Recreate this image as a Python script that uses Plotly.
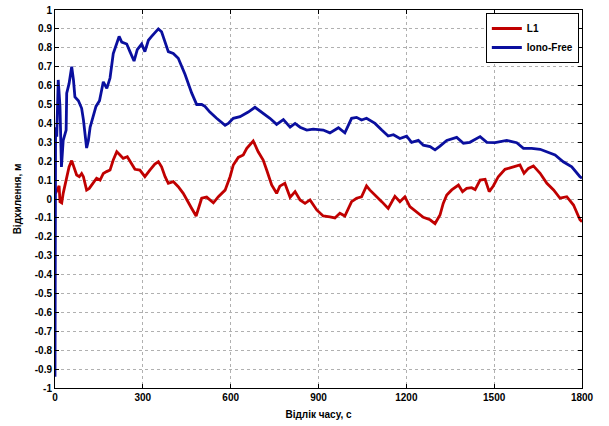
import plotly.graph_objects as go

# Time axis (s) and deviation (m) for the two solutions
l1_t = [2, 8, 14, 17, 23, 28, 40, 48, 57, 65, 74, 83, 91, 97, 108, 117, 131, 142, 154, 165,
        176, 188, 199, 211, 222, 233, 247, 262, 273, 290, 307, 324, 341, 353, 364, 376, 387, 404, 421, 438,
        450, 467, 482, 501, 518, 541, 558, 581, 598, 609, 626, 643, 655, 677, 694, 711, 723, 740, 757, 768,
        785, 803, 820, 837, 854, 871, 894, 916, 939, 956, 973, 990, 1013, 1030, 1047, 1064, 1075, 1093, 1116, 1138,
        1161, 1178, 1195, 1212, 1235, 1258, 1281, 1298, 1315, 1326, 1338, 1355, 1378, 1392, 1406, 1423, 1435, 1452, 1469, 1483,
        1497, 1514, 1537, 1560, 1588, 1602, 1617, 1634, 1657, 1680, 1703, 1725, 1748, 1771, 1793, 1800]
l1_dev = [0.03, 0.047, 0.07, -0.014, -0.02, 0.03, 0.118, 0.17, 0.203, 0.17,
          0.127, 0.118, 0.135, 0.118, 0.047, 0.056, 0.083, 0.11, 0.10, 0.135,
          0.145, 0.153, 0.206, 0.25, 0.233, 0.215, 0.224, 0.189, 0.157, 0.153,
          0.118, 0.153, 0.185, 0.197, 0.17, 0.118, 0.083, 0.092, 0.065, 0.03,
          -0.005, -0.05, -0.09, 0.004, 0.01, -0.02, 0.012, 0.047, 0.118, 0.18,
          0.22, 0.233, 0.268, 0.307, 0.25, 0.206, 0.153, 0.074, 0.03, 0.068,
          0.083, 0.009, 0.039, -0.005, -0.023, -0.005, -0.058, -0.09, -0.095, -0.10,
          -0.075, -0.09, -0.014, 0.004, 0.012, 0.069, 0.048, 0.022, -0.014, -0.05,
          0.014, -0.014, 0.012, -0.04, -0.067, -0.097, -0.11, -0.13, -0.085, -0.023,
          0.021, 0.048, 0.074, 0.039, 0.056, 0.06, 0.05, 0.10, 0.104, 0.039,
          0.069, 0.118, 0.157, 0.168, 0.18, 0.136, 0.162, 0.175, 0.136, 0.083,
          0.048, 0.004, 0.012, -0.032, -0.11, -0.12]

iono_t = [0, 2, 6, 11, 17, 22, 28, 38, 40, 48, 57, 63, 68, 80, 91, 97, 108, 114, 120, 131,
          140, 152, 165, 177, 188, 199, 211, 219, 228, 245, 256, 270, 281, 296, 307, 319, 330, 353, 364, 387,
          404, 421, 444, 467, 484, 501, 512, 529, 552, 581, 592, 609, 632, 660, 683, 706, 734, 757, 780, 803,
          820, 837, 860, 882, 916, 939, 968, 990, 1013, 1030, 1047, 1064, 1093, 1116, 1138, 1156, 1178, 1201, 1218, 1241,
          1258, 1281, 1298, 1315, 1338, 1372, 1395, 1417, 1452, 1475, 1503, 1543, 1577, 1600, 1628, 1657, 1680, 1708, 1736, 1765,
          1793, 1800]
iono_dev = [-0.94, 0.38, 0.33, 0.63, 0.49, 0.17, 0.31, 0.365, 0.56, 0.61,
            0.70, 0.63, 0.54, 0.52, 0.48, 0.42, 0.27, 0.31, 0.38, 0.435,
            0.49, 0.52, 0.62, 0.585, 0.64, 0.77, 0.83, 0.86, 0.83, 0.82,
            0.78, 0.73, 0.79, 0.82, 0.78, 0.84, 0.86, 0.90, 0.885, 0.78,
            0.77, 0.745, 0.66, 0.56, 0.50, 0.50, 0.49, 0.46, 0.427, 0.39,
            0.40, 0.427, 0.436, 0.46, 0.485, 0.46, 0.427, 0.395, 0.42, 0.38,
            0.40, 0.38, 0.365, 0.37, 0.365, 0.35, 0.377, 0.35, 0.427, 0.432,
            0.418, 0.427, 0.40, 0.365, 0.333, 0.34, 0.32, 0.333, 0.30, 0.31,
            0.285, 0.277, 0.26, 0.28, 0.31, 0.326, 0.295, 0.30, 0.33, 0.30,
            0.298, 0.31, 0.298, 0.268, 0.268, 0.263, 0.25, 0.233, 0.197, 0.17,
            0.118, 0.11]

x_ticks = [0, 300, 600, 900, 1200, 1500, 1800]
y_ticks = [round(-1 + 0.1 * i, 1) for i in range(21)]
y_tick_text = ["1" if v == 1 else "-1" if v == -1 else "0" if v == 0 else f"{v:.1f}" for v in y_ticks]

font = dict(family="Liberation Sans, Arial, sans-serif", size=10, color="black", weight="bold")

fig = go.Figure()
fig.add_trace(go.Scatter(x=l1_t, y=l1_dev, mode="lines", name="L1",
                         line=dict(color="#c00000", width=2.8)))
fig.add_trace(go.Scatter(x=iono_t, y=iono_dev, mode="lines", name="Iono-Free",
                         line=dict(color="#0a0f9e", width=2.8)))

axis_common = dict(
    showline=True, linecolor="black", linewidth=1, mirror="ticks",
    ticks="inside", ticklen=4, tickcolor="black",
    showgrid=True, gridcolor="#b0b0b0", griddash="dot", gridwidth=1,
    zeroline=False, tickfont=font, automargin=False,
)

fig.update_xaxes(range=[0, 1800], tickvals=x_ticks, ticktext=[str(v) for v in x_ticks],
                 title=dict(text="Відлік часу, с", font=font, standoff=8), **axis_common)
fig.update_yaxes(range=[-1, 1], tickvals=y_ticks, ticktext=y_tick_text,
                 title=dict(text="Відхилення, м", font=font, standoff=11), **axis_common)

fig.update_layout(
    width=609, height=426,
    margin=dict(l=55, r=27, t=10, b=38, autoexpand=False),
    paper_bgcolor="white", plot_bgcolor="white",
    showlegend=True,
    legend=dict(x=0.994, y=0.992, xanchor="right", yanchor="top",
                bgcolor="white", bordercolor="black", borderwidth=1,
                font=font, tracegroupgap=0, itemwidth=30),
)

fig.write_html("out.html")
